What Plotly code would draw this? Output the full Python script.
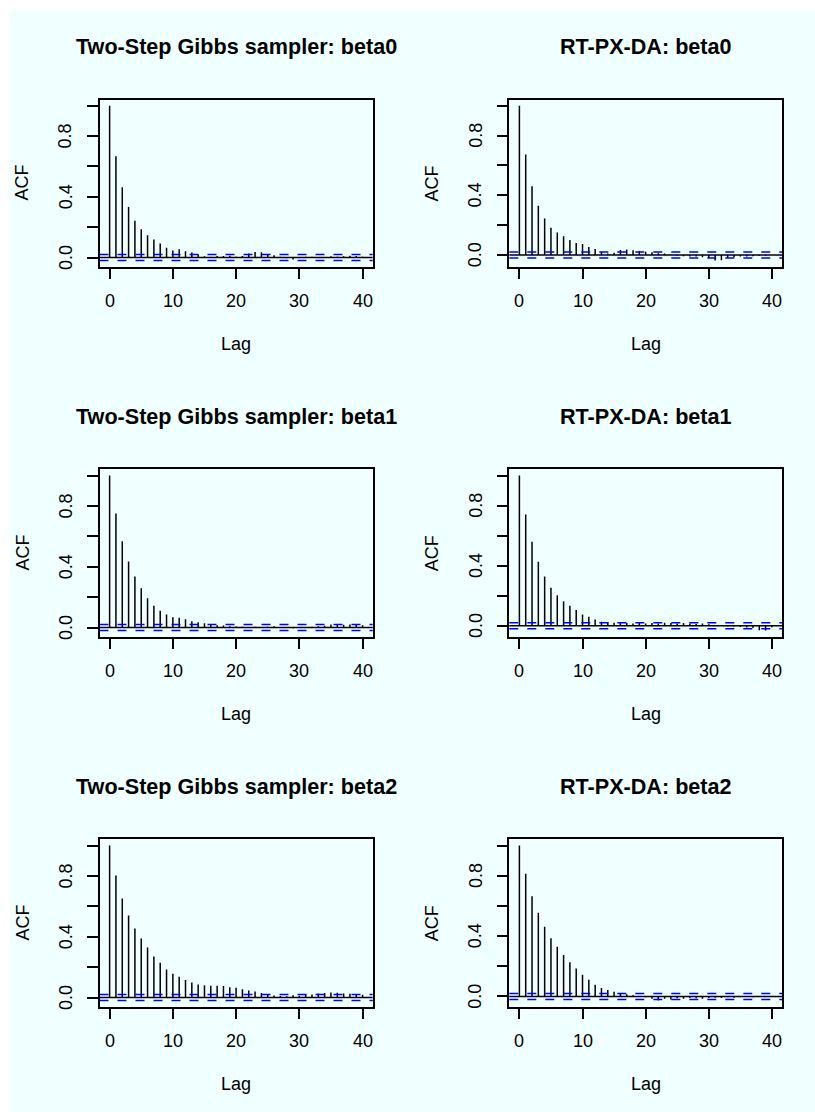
import plotly.graph_objects as go
import numpy as np

# ---------------- data ----------------
lags = list(range(41))
n_iter = 10000  # chain length used for the white-noise bounds

gibbs_beta0 = [1.0, 0.667, 0.463, 0.333, 0.243, 0.186, 0.147, 0.118, 0.092, 0.064,
               0.046, 0.055, 0.042, 0.033, 0.020, 0.008, 0.005, 0.010, 0.010, 0.012,
               0.005, 0.010, 0.026, 0.037, 0.035, 0.022, 0.015, 0.005, -0.005, -0.013,
               0.003, 0.005, 0.005, 0.003, 0.003, 0.008, 0.005, 0.008, 0.012, 0.010, 0.005]
rt_beta0 = [1.0, 0.673, 0.461, 0.329, 0.244, 0.183, 0.150, 0.125, 0.100, 0.080,
            0.074, 0.054, 0.040, 0.020, 0.010, 0.015, 0.034, 0.036, 0.031, 0.027,
            0.022, 0.018, 0.011, 0.010, 0.000, -0.005, -0.008, -0.010, -0.010, -0.015,
            -0.020, -0.037, -0.035, -0.020, -0.015, -0.010, -0.010, -0.008, -0.005, -0.005, 0.000]
gibbs_beta1 = [1.0, 0.750, 0.568, 0.434, 0.336, 0.259, 0.193, 0.143, 0.110, 0.086,
               0.068, 0.064, 0.055, 0.042, 0.035, 0.028, 0.020, 0.015, 0.013, 0.008,
               0.006, 0.005, 0.003, 0.005, 0.002, 0.005, 0.008, 0.003, -0.003, -0.005,
               0.002, 0.003, 0.005, 0.008, 0.012, 0.020, 0.020, 0.018, 0.020, 0.018, 0.015]
rt_beta1 = [1.0, 0.741, 0.559, 0.426, 0.328, 0.253, 0.202, 0.162, 0.133, 0.104,
            0.075, 0.060, 0.042, 0.027, 0.024, 0.020, 0.018, 0.020, 0.015, 0.018,
            0.015, 0.018, 0.015, 0.020, 0.018, 0.015, 0.018, 0.015, 0.012, 0.015,
            0.010, 0.005, 0.000, -0.003, -0.005, -0.008, -0.012, -0.015, -0.030, -0.032, -0.010]
gibbs_beta2 = [1.0, 0.803, 0.651, 0.539, 0.454, 0.388, 0.329, 0.270, 0.228, 0.184,
               0.156, 0.136, 0.116, 0.099, 0.086, 0.081, 0.077, 0.077, 0.075, 0.068,
               0.064, 0.055, 0.046, 0.039, 0.029, 0.020, 0.013, 0.010, 0.008, 0.015,
               0.012, 0.022, 0.020, 0.026, 0.029, 0.033, 0.031, 0.026, 0.024, 0.020, 0.018]
rt_beta2 = [1.0, 0.812, 0.664, 0.554, 0.461, 0.386, 0.329, 0.274, 0.227, 0.185,
            0.143, 0.110, 0.077, 0.055, 0.042, 0.031, 0.020, 0.015, 0.007, 0.003,
            -0.005, -0.015, -0.027, -0.015, -0.020, -0.012, -0.015, -0.010, -0.012, -0.015,
            -0.010, -0.008, -0.010, -0.005, -0.008, -0.005, -0.003, -0.005, -0.003, 0.000, -0.003]

panel_titles = ["Two-Step Gibbs sampler: beta0", "RT-PX-DA: beta0",
                "Two-Step Gibbs sampler: beta1", "RT-PX-DA: beta1",
                "Two-Step Gibbs sampler: beta2", "RT-PX-DA: beta2"]
panel_series = [gibbs_beta0, rt_beta0, gibbs_beta1, rt_beta1, gibbs_beta2, rt_beta2]

x_tickvals = [0, 10, 20, 30, 40]
x_ticktext = ["0", "10", "20", "30", "40"]
y_tickvals = [0.0, 0.2, 0.4, 0.6, 0.8, 1.0]
y_ticktext = ["0.0", "", "0.4", "", "0.8", ""]
x_label = "Lag"
y_label = "ACF"

# ---------------- layout geometry (pixels) ----------------
W, H = 815, 1112
col_px = [(99.5, 372.7), (509.3, 782.0)]
row_px = [(99.5, 266.7), (469.3, 636.7), (839.3, 1006.7)]
BG = "#F0FFFF"
FONT = "Liberation Sans, Arial, Helvetica, sans-serif"

def px_x(p):
    return p / W

def px_y(p):
    return 1 - p / H

fig = go.Figure()
clim = 1.96 / np.sqrt(n_iter)
annotations = []
shapes = [dict(type="rect", xref="paper", yref="paper", x0=px_x(10), x1=1, y0=0, y1=px_y(10),
               fillcolor=BG, line=dict(width=0), layer="below")]

for i, (title, vals) in enumerate(zip(panel_titles, panel_series)):
    r, c = divmod(i, 2)
    k = i + 1
    xa = "x" if k == 1 else f"x{k}"
    ya = "y" if k == 1 else f"y{k}"
    xs, ys = [], []
    for lag, v in zip(lags, vals):
        xs += [lag, lag, None]
        ys += [0, v, None]
    fig.add_trace(go.Scatter(x=xs, y=ys, mode="lines", xaxis=xa, yaxis=ya,
                             line=dict(color="black", width=1.5), showlegend=False,
                             hoverinfo="skip"))
    lo = min(min(vals), -clim)
    hi = max(max(vals), clim)
    ext = 0.04 * (hi - lo)
    xlo, xhi = min(lags), max(lags)
    xext = 0.04 * (xhi - xlo)
    x0p, x1p = col_px[c]
    y0p, y1p = row_px[r]
    axis_common = dict(showline=True, mirror=True, linecolor="black", linewidth=1.5,
                       ticks="outside", ticklen=11, tickwidth=1.5, tickcolor="black",
                       showgrid=False, zeroline=False, showticklabels=False)
    fig.update_layout(**{
        ("xaxis" if k == 1 else f"xaxis{k}"): dict(
            domain=[px_x(x0p), px_x(x1p)], anchor=ya, range=[xlo - xext, xhi + xext],
            tickmode="array", tickvals=x_tickvals, **axis_common),
        ("yaxis" if k == 1 else f"yaxis{k}"): dict(
            domain=[px_y(y1p), px_y(y0p)], anchor=xa, range=[lo - ext, hi + ext],
            tickmode="array", tickvals=y_tickvals, **axis_common),
    })
    xd = f"{xa} domain"
    yd = f"{ya} domain"
    shapes.append(dict(type="line", xref=xd, yref=ya, x0=0, x1=1, y0=0, y1=0,
                       line=dict(color="black", width=1.5)))
    for s in (clim, -clim):
        shapes.append(dict(type="line", xref=xd, yref=ya, x0=0, x1=1, y0=s, y1=s,
                           line=dict(color="#0000FF", width=1.5, dash="9px,9px")))
    # tick labels
    for tv, tt in zip(x_tickvals, x_ticktext):
        annotations.append(dict(text=tt, xref=xa, yref="paper", x=tv, y=px_y(y1p + 34),
                                xanchor="center", yanchor="middle", showarrow=False,
                                font=dict(family=FONT, size=18, color="black")))
    for tv, tt in zip(y_tickvals, y_ticktext):
        if tt:
            annotations.append(dict(text=tt, xref="paper", yref=ya, x=px_x(x0p - 34), y=tv,
                                    xanchor="center", yanchor="middle", textangle=-90,
                                    showarrow=False,
                                    font=dict(family=FONT, size=18, color="black")))
    cx = (x0p + x1p) / 2
    annotations.append(dict(text=f"<b>{title}</b>", xref="paper", yref="paper",
                            x=px_x(cx), y=px_y(y0p - 53), xanchor="center", yanchor="middle",
                            showarrow=False, font=dict(family=FONT, size=21.6, color="black")))
    annotations.append(dict(text=x_label, xref="paper", yref="paper",
                            x=px_x(cx), y=px_y(y1p + 77), xanchor="center", yanchor="middle",
                            showarrow=False, font=dict(family=FONT, size=18, color="black")))
    annotations.append(dict(text=y_label, xref="paper", yref="paper", textangle=-90,
                            x=px_x(x0p - 77), y=px_y((y0p + y1p) / 2), xanchor="center",
                            yanchor="middle", showarrow=False,
                            font=dict(family=FONT, size=18, color="black")))

fig.update_layout(width=W, height=H, margin=dict(l=0, r=0, t=0, b=0),
                  paper_bgcolor="white", plot_bgcolor=BG,
                  shapes=shapes, annotations=annotations, showlegend=False)

fig.write_html("out.html")
